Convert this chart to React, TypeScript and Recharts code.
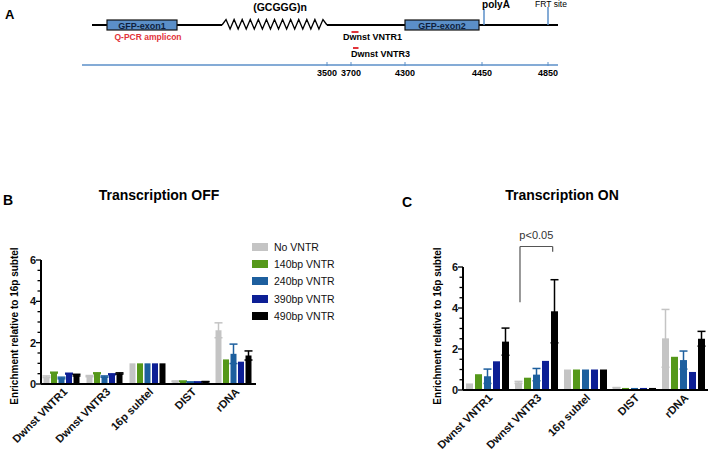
import { BarChart, Bar, XAxis, YAxis, ErrorBar, ReferenceLine } from "recharts";

const categories = ["Dwnst VNTR1", "Dwnst VNTR3", "16p subtel", "DIST", "rDNA"];
const seriesNames = ["No VNTR", "140bp VNTR", "240bp VNTR", "390bp VNTR", "490bp VNTR"];
const seriesColors = ["#c4c4c4", "#55981a", "#1d5f9e", "#0d1f95", "#000000"];

// Transcription OFF (panel B)
const offNoVntr = [0.35, 0.38, 1, 0.13, 2.6];
const off140 = [0.55, 0.52, 1, 0.13, 1.19];
const off240 = [0.29, 0.36, 1, 0.09, 1.46];
const off390 = [0.5, 0.47, 1, 0.09, 1.08];
const off490 = [0.43, 0.51, 1, 0.11, 1.38];
const offErrNoVntr = [0.04, 0.03, 0, 0.02, 0.36];
const offErr140 = [0.02, 0.02, 0, 0.01, 0];
const offErr240 = [0.04, 0.03, 0, 0.01, 0.47];
const offErr390 = [0.02, 0.02, 0, 0.01, 0];
const offErr490 = [0.04, 0.03, 0, 0.01, 0.22];

// Transcription ON (panel C)
const onNoVntr = [0.32, 0.37, 1, 0.11, 2.52];
const on140 = [0.77, 0.6, 1, 0.1, 1.62];
const on240 = [0.67, 0.75, 1, 0.1, 1.46];
const on390 = [1.4, 1.42, 1, 0.1, 0.88];
const on490 = [2.36, 3.84, 1, 0.1, 2.5];
const onErrNoVntr = [0, 0.05, 0, 0.01, 1.41];
const onErr140 = [0, 0, 0, 0, 0];
const onErr240 = [0.35, 0.3, 0, 0, 0.44];
const onErr390 = [0, 0, 0, 0, 0];
const onErr490 = [0.66, 1.54, 0, 0, 0.36];

const yTicks = [0, 0.5, 1, 1.5, 2, 2.5, 3, 3.5, 4, 4.5, 5, 5.5, 6];
const yLabelTicks = [0, 2, 4, 6];

// significance bracket over Dwnst VNTR3 (x in category units 0..5, y in data units)
const bracketX = [1.163, 1.83];
const bracketTop = 7.0;
const bracketLeftLow = 4.28;
const bracketRightLow = 6.75;

// construct map (panel A)
const mapTickLabels = ["3500", "3700", "4300", "4450", "4850"];
const mapTickX = [327, 351, 405, 482, 548];

const FONT = "'Liberation Sans', Arial, sans-serif";
const yLabel = "Enrichment relative to 16p subtel";

// plot geometry of the two bar panels (page px)
const panelB = { left: 0, width: 360, plotLeft: 41, plotRight: 256, plotTop: 260, axisY: 384 };
const panelC = { left: 360, width: 349, plotLeft: 463, plotRight: 708, plotTop: 267, axisY: 390 };
const PAGE_H = 452;
const Y_AXIS_W = 30;

function buildRows(means: number[][], errs: number[][]) {
  return categories.map((name, i) => {
    const row: Record<string, number | string> = { name, pos: i + 0.5 };
    means.forEach((m, s) => {
      row[`s${s}`] = m[i];
      row[`e${s}`] = errs[s][i];
    });
    return row;
  });
}

const offRows = buildRows(
  [offNoVntr, off140, off240, off390, off490],
  [offErrNoVntr, offErr140, offErr240, offErr390, offErr490]
);
const onRows = buildRows(
  [onNoVntr, on140, on240, on390, on490],
  [onErrNoVntr, onErr140, onErr240, onErr390, onErr490]
);

const renderYTick = (props: any) => {
  const { x, y, payload } = props;
  const major = yLabelTicks.includes(payload.value);
  return (
    <g>
      <line x1={x} x2={x - (major ? 5 : 3.5)} y1={y} y2={y} stroke="#000" strokeWidth={1.3} />
      {major && (
        <text x={x - 5} y={y} dy="0.36em" textAnchor="end" fontSize={11} fontWeight="bold" fill="#111" fontFamily={FONT}>
          {payload.value}
        </text>
      )}
    </g>
  );
};

const xTickStyle = { fontSize: 11, fontWeight: "bold", fill: "#111", fontFamily: FONT };

function seriesBars() {
  return seriesNames.map((n, s) => (
    <Bar key={n} dataKey={`s${s}`} name={n} fill={seriesColors[s]} isAnimationActive={false}>
      <ErrorBar dataKey={`e${s}`} width={4} strokeWidth={1.5} stroke={seriesColors[s]} direction="y" />
    </Bar>
  ));
}

const abs = (left: number, top: number, extra: any = {}) => ({
  position: "absolute" as const,
  left,
  top,
  fontFamily: FONT,
  whiteSpace: "nowrap" as const,
  ...extra,
});

function ConstructMap() {
  const blue = "#5b8fc8";
  const zx0 = 222;
  const zx1 = 327;
  const teeth = 26;
  const zig = Array.from({ length: teeth + 1 }, (_, i) => {
    const x = zx0 + ((zx1 - zx0) * i) / teeth;
    const y = i === 0 || i === teeth ? 25 : i % 2 ? 19.5 : 29;
    return `${x},${y}`;
  }).join(" ");
  return (
    <svg width={709} height={90} style={{ position: "absolute", left: 0, top: 0 }} fontFamily={FONT}>
      <text x={5} y={19} fontSize={13} fontWeight="bold">A</text>
      <line x1={92} x2={zx0} y1={25} y2={25} stroke="#000" strokeWidth={2} />
      <line x1={zx1} x2={558} y1={25} y2={25} stroke="#000" strokeWidth={2} />
      <polyline points={zig} fill="none" stroke="#000" strokeWidth={1.3} />
      <line x1={484} x2={484} y1={9} y2={25} stroke={blue} strokeWidth={1.5} />
      <line x1={548} x2={548} y1={7} y2={25} stroke={blue} strokeWidth={1.5} />
      <rect x={107} y={20} width={70} height={10} fill={blue} stroke="#111" strokeWidth={1.2} />
      <rect x={405} y={20} width={74} height={10} fill={blue} stroke="#111" strokeWidth={1.2} />
      <text x={142} y={28.5} fontSize={9} fontWeight="bold" fill="#0f1f3d" textAnchor="middle">GFP-exon1</text>
      <text x={442} y={28.5} fontSize={9} fontWeight="bold" fill="#0f1f3d" textAnchor="middle">GFP-exon2</text>
      <text x={280} y={11} fontSize={10.5} fontWeight="bold" textAnchor="middle">(GCGGG)n</text>
      <text x={496} y={8} fontSize={10} fontWeight="bold" textAnchor="middle">polyA</text>
      <text x={551} y={6.5} fontSize={8.5} textAnchor="middle">FRT site</text>
      <text x={148} y={40} fontSize={8.5} fontWeight="bold" fill="#e2343a" textAnchor="middle">Q-PCR amplicon</text>
      <line x1={351.5} x2={358.5} y1={32} y2={32} stroke="#e2343a" strokeWidth={2} />
      <text x={343} y={40} fontSize={9} fontWeight="bold">Dwnst VNTR1</text>
      <line x1={353} x2={358.5} y1={48} y2={48} stroke="#e2343a" strokeWidth={2} />
      <text x={351} y={56.5} fontSize={9} fontWeight="bold">Dwnst VNTR3</text>
      <line x1={82} x2={558} y1={65} y2={65} stroke={blue} strokeWidth={1.5} />
      {mapTickLabels.map((t, i) => (
        <g key={t}>
          <line x1={mapTickX[i]} x2={mapTickX[i]} y1={62} y2={66} stroke={blue} strokeWidth={1} />
          <text x={mapTickX[i]} y={75.5} fontSize={9} fontWeight="bold" textAnchor="middle">{t}</text>
        </g>
      ))}
    </svg>
  );
}

function chartMargin(geo: typeof panelB) {
  return {
    top: geo.plotTop,
    right: geo.left + geo.width - geo.plotRight,
    bottom: 0,
    left: geo.plotLeft - geo.left - Y_AXIS_W,
  };
}

export default function App() {
  return (
    <div style={{ position: "absolute", left: 0, top: 0, width: 709, height: PAGE_H, background: "#fff", overflow: "hidden", fontFamily: FONT }}>
      <ConstructMap />

      {/* Panel B */}
      <div style={abs(3, 192, { fontSize: 14, fontWeight: "bold" })}>B</div>
      <div style={abs(159, 195, { fontSize: 14, fontWeight: "bold", transform: "translate(-50%, -50%)" })}>Transcription OFF</div>
      <div style={abs(14, 326, { fontSize: 10, fontWeight: "bold", transform: "translate(-50%, -50%) rotate(-90deg)" })}>{yLabel}</div>
      <div style={{ position: "absolute", left: panelB.left, top: 0 }}>
        <BarChart width={panelB.width} height={PAGE_H} data={offRows} margin={chartMargin(panelB)} barGap={1.5} barCategoryGap={2.5}>
          <XAxis dataKey="name" height={PAGE_H - panelB.axisY} interval={0} tickSize={3} tickMargin={0} tickLine={false} angle={-45} textAnchor="end" tick={xTickStyle} axisLine={{ stroke: "#000", strokeWidth: 2 }} />
          <YAxis width={Y_AXIS_W} domain={[0, 6]} ticks={yTicks} interval={0} tickSize={0} tickMargin={0} tickLine={false} axisLine={{ stroke: "#000", strokeWidth: 2 }} tick={renderYTick} />
          {seriesBars()}
        </BarChart>
      </div>
      <div style={abs(252, 238)}>
        {seriesNames.map((n, s) => (
          <div key={n} style={{ display: "flex", alignItems: "center", height: 17.4 }}>
            <div style={{ width: 16, height: 8, background: seriesColors[s], marginRight: 6 }} />
            <span style={{ fontSize: 10.5, color: "#111" }}>{n}</span>
          </div>
        ))}
      </div>

      {/* Panel C */}
      <div style={abs(402, 194, { fontSize: 14, fontWeight: "bold" })}>C</div>
      <div style={abs(562, 195, { fontSize: 14, fontWeight: "bold", transform: "translate(-50%, -50%)" })}>Transcription ON</div>
      <div style={abs(437, 326, { fontSize: 10, fontWeight: "bold", transform: "translate(-50%, -50%) rotate(-90deg)" })}>{yLabel}</div>
      <div style={{ position: "absolute", left: panelC.left, top: 0 }}>
        <BarChart width={panelC.width} height={PAGE_H} data={onRows} margin={chartMargin(panelC)} barGap={2} barCategoryGap={3}>
          <XAxis dataKey="name" height={PAGE_H - panelC.axisY} interval={0} tickSize={3} tickMargin={0} tickLine={false} angle={-45} textAnchor="end" tick={xTickStyle} axisLine={{ stroke: "#000", strokeWidth: 2 }} />
          <XAxis xAxisId="bracket" dataKey="pos" type="number" domain={[0, 5]} allowDataOverflow hide />
          <YAxis width={Y_AXIS_W} domain={[0, 6]} ticks={yTicks} interval={0} tickSize={0} tickMargin={0} tickLine={false} axisLine={{ stroke: "#000", strokeWidth: 2 }} tick={renderYTick} />
          {seriesBars()}
          <ReferenceLine xAxisId="bracket" ifOverflow="visible" stroke="#555" strokeWidth={1.2}
            segment={[{ x: bracketX[0], y: bracketLeftLow }, { x: bracketX[0], y: bracketTop }]} />
          <ReferenceLine xAxisId="bracket" ifOverflow="visible" stroke="#555" strokeWidth={1.2}
            segment={[{ x: bracketX[0], y: bracketTop }, { x: bracketX[1], y: bracketTop }]}
            label={{ value: "p<0.05", position: "top", offset: 8, fontSize: 11, fill: "#333", fontFamily: FONT }} />
          <ReferenceLine xAxisId="bracket" ifOverflow="visible" stroke="#555" strokeWidth={1.2}
            segment={[{ x: bracketX[1], y: bracketTop }, { x: bracketX[1], y: bracketRightLow }]} />
        </BarChart>
      </div>
    </div>
  );
}
